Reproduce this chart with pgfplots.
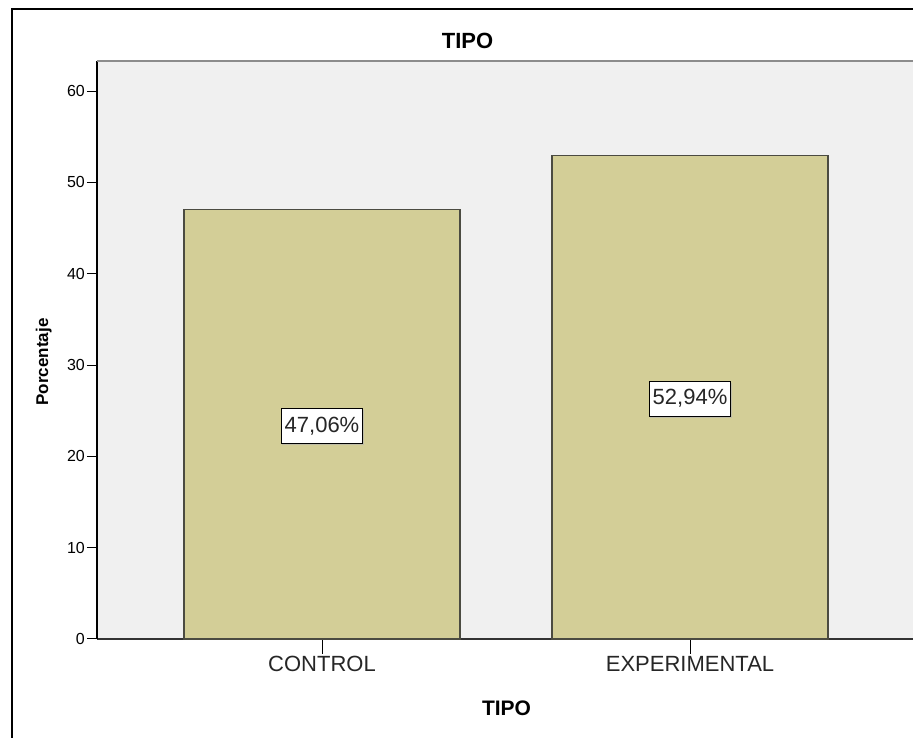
\documentclass[border=0pt]{standalone}
\usepackage{pgfplots}
\pgfplotsset{compat=1.18}
\usetikzlibrary{shadows}
\usepackage{fontspec}
\setmainfont{Liberation Sans}
\definecolor{barfill}{RGB}{211,206,151}
\definecolor{plotbg}{RGB}{240,240,240}
\definecolor{baredge}{RGB}{75,75,65}
\begin{document}
\begin{tikzpicture}[x=1pt,y=1pt]
\useasboundingbox (0,0) rectangle (913,738);
\begin{axis}[
  at={(97pt,99pt)}, anchor=south west,
  scale only axis, width=819pt, height=578pt,
  xmin=-0.6114, xmax=1.614, ymin=0, ymax=63.29,
  axis background/.style={fill=plotbg},
  axis lines*=left,
  x axis line style={draw=black!80, line width=1.6pt},
  y axis line style={draw=black, line width=1.4pt},
  tick align=outside,
  major tick length=10pt,
  ytick={0,10,20,30,40,50,60},
  xtick={0,1},
  xticklabels={CONTROL,EXPERIMENTAL},
  xtick style={/pgfplots/major tick length=15pt, line width=1pt, black},
  ytick style={line width=1pt, black},
  /pgf/number format/assume math mode=true,
  yticklabel style={font=\fontsize{16}{19}\selectfont, inner sep=0pt, xshift=-2pt},
  xticklabel style={font=\fontsize{22}{26}\selectfont, inner sep=0pt, yshift=-7pt, text=black!85},
  clip=false,
]
\addplot[ybar, bar width=0.75, bar shift=0pt, fill=barfill, draw=baredge, line width=1.3pt]
  coordinates {(0,47.06) (1,52.94)};
\addplot[draw=none, mark=none, nodes near coords, point meta=explicit symbolic,
  every node near coord/.style={anchor=center, fill=white, draw=black, line width=0.9pt,
    drop shadow={shadow xshift=1pt, shadow yshift=-1.5pt, fill=black!30, opacity=0.6},
    font=\fontsize{22}{26}\selectfont, text=black!85, inner xsep=3.5pt, inner ysep=7.5pt,
    text height=16pt, text depth=4pt}]
  coordinates {(0,23.3) [47,06\%] (1,26.3) [52,94\%]};
\draw[draw=black!45, line width=2pt] (rel axis cs:0,1) -- (rel axis cs:1.02,1);
\end{axis}
\node[anchor=base, font=\bfseries\fontsize{22}{26}\selectfont] at (467.5,689) {TIPO};
\node[anchor=base, font=\bfseries\fontsize{21}{25}\selectfont] at (506.5,22) {TIPO};
\node[anchor=base, rotate=90, font=\bfseries\fontsize{17}{20}\selectfont] at (48,376) {Porcentaje};
\draw[line width=2pt] (12,-10) -- (12,729) -- (930,729);
\end{tikzpicture}
\end{document}
